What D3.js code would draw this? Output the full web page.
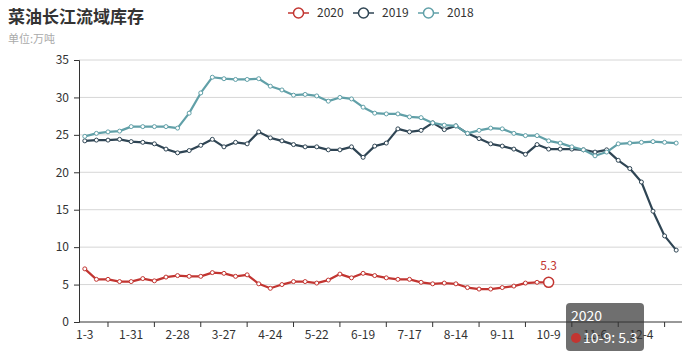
<!DOCTYPE html>
<html>
<head>
<meta charset="utf-8">
<script src="https://cdn.jsdelivr.net/npm/d3@7"></script>
<style>
  body { margin: 0; background: #fff; }
  text { font-family: "Noto Sans CJK SC", "Noto Sans", sans-serif; }
</style>
</head>
<body>
<div id="chart"></div>
<script>
// Weekly dates (x categories)
const dates = ["1-3","1-10","1-17","1-24","1-31","2-7","2-14","2-21","2-28","3-6","3-13","3-20","3-27",
  "4-3","4-10","4-17","4-24","5-1","5-8","5-15","5-22","5-29","6-5","6-12","6-19","6-26",
  "7-3","7-10","7-17","7-24","7-31","8-7","8-14","8-21","8-28","9-4","9-11","9-18","9-25",
  "10-2","10-9","10-16","10-23","10-30","11-6","11-13","11-20","11-27","12-4","12-11","12-18","12-25"];

// Stocks, 10k tonnes
const s2020 = [7.1,5.7,5.7,5.4,5.4,5.8,5.5,6.0,6.2,6.1,6.1,6.6,6.5,6.1,6.3,5.1,4.5,5.0,5.4,5.4,
  5.2,5.6,6.4,5.9,6.5,6.2,5.9,5.7,5.7,5.3,5.1,5.2,5.1,4.6,4.4,4.4,4.6,4.8,5.2,5.3,5.3];
const s2019 = [24.2,24.3,24.3,24.4,24.1,24.0,23.8,23.1,22.6,22.9,23.6,24.4,23.4,24.0,23.8,25.4,
  24.6,24.2,23.7,23.4,23.4,23.0,23.0,23.4,22.0,23.5,23.9,25.8,25.4,25.6,26.6,25.7,26.2,25.2,
  24.5,23.8,23.5,23.1,22.4,23.7,23.1,23.1,23.1,23.0,22.7,23.0,21.6,20.5,18.7,14.8,11.5,9.6];
const s2018 = [24.8,25.2,25.4,25.5,26.1,26.1,26.1,26.1,25.9,27.9,30.6,32.7,32.5,32.4,32.4,32.5,
  31.5,31.0,30.3,30.4,30.2,29.5,30.0,29.8,28.7,27.9,27.8,27.8,27.4,27.3,26.6,26.3,26.2,25.2,
  25.6,25.9,25.8,25.2,24.9,24.9,24.2,23.9,23.4,23.0,22.2,22.7,23.8,23.9,24.0,24.1,24.0,23.9];

const seriesNames = ["2020", "2019", "2018"];
const yTicks = [0, 5, 10, 15, 20, 25, 30, 35];

const series = [
  { name: seriesNames[0], values: s2020, color: "#c23531" },
  { name: seriesNames[1], values: s2019, color: "#2f4554" },
  { name: seriesNames[2], values: s2018, color: "#61a0a8" }
];

const width = 688;
const height = 353;
const margin = { top: 60, right: 6, bottom: 31, left: 79 };

const svg = d3.select("#chart").append("svg")
  .attr("width", width)
  .attr("height", height);

const x = d3.scaleBand()
  .domain(dates)
  .range([margin.left, width - margin.right]);

const y = d3.scaleLinear()
  .domain([0, 35])
  .range([height - margin.bottom, margin.top]);

const cx = d => x(d) + x.bandwidth() / 2;

// Title
svg.append("text")
  .attr("x", 8).attr("y", 23)
  .attr("font-size", 17).attr("font-weight", "bold")
  .attr("fill", "#333")
  .text("菜油长江流域库存");

svg.append("text")
  .attr("x", 8).attr("y", 43)
  .attr("font-size", 11)
  .attr("fill", "#aaa")
  .text("单位:万吨");

// Legend
const legend = svg.append("g")
  .selectAll("g")
  .data(series)
  .enter().append("g")
  .attr("transform", (d, i) => `translate(${288 + i * 65},13)`);

legend.append("line")
  .attr("x1", 0).attr("x2", 21)
  .attr("stroke", d => d.color)
  .attr("stroke-width", 1.5);

legend.append("circle")
  .attr("cx", 10.5).attr("r", 5)
  .attr("fill", "#fff")
  .attr("stroke", d => d.color)
  .attr("stroke-width", 1.5);

legend.append("text")
  .attr("x", 29).attr("dy", "0.35em")
  .attr("font-size", 12).attr("fill", "#333")
  .text(d => d.name);

// Grid lines
svg.append("g")
  .selectAll("line")
  .data(yTicks.filter(t => t > 0))
  .enter().append("line")
  .attr("x1", margin.left).attr("x2", width - margin.right)
  .attr("y1", d => y(d)).attr("y2", d => y(d))
  .attr("stroke", "#d6d6d6");

// Y axis
const yAxis = svg.append("g")
  .attr("transform", `translate(${margin.left},0)`)
  .call(d3.axisLeft(y).tickValues(yTicks).tickSize(5).tickPadding(5));
yAxis.select(".domain").attr("stroke", "#333");
yAxis.selectAll(".tick line").attr("stroke", "#333");
yAxis.selectAll("text").attr("font-size", 12).attr("fill", "#333")
  .style("font-family", "'Noto Sans CJK SC', sans-serif");

// X axis: labels every 4 weeks, ticks between them
const xAxisG = svg.append("g")
  .attr("transform", `translate(0,${y(0)})`);
xAxisG.append("line")
  .attr("x1", margin.left).attr("x2", width - margin.right)
  .attr("stroke", "#333");
xAxisG.selectAll(".xtick")
  .data(dates.filter((d, i) => i % 4 === 2))
  .enter().append("line")
  .attr("x1", d => cx(d)).attr("x2", d => cx(d))
  .attr("y1", 0).attr("y2", 5)
  .attr("stroke", "#333");
xAxisG.selectAll(".xlabel")
  .data(dates.filter((d, i) => i % 4 === 0))
  .enter().append("text")
  .attr("x", d => cx(d)).attr("y", 17)
  .attr("text-anchor", "middle")
  .attr("font-size", 12).attr("fill", "#333")
  .text(d => d);

// Lines
const line = d3.line()
  .x((d, i) => cx(dates[i]))
  .y(d => y(d));

const plot = svg.append("g");
series.forEach(s => {
  plot.append("path")
    .datum(s.values)
    .attr("d", line)
    .attr("fill", "none")
    .attr("stroke", s.color)
    .attr("stroke-width", 2.2)
    .attr("stroke-linejoin", "round");

  plot.append("g")
    .selectAll("circle")
    .data(s.values)
    .enter().append("circle")
    .attr("cx", (d, i) => cx(dates[i]))
    .attr("cy", d => y(d))
    .attr("r", 2)
    .attr("fill", "#fff")
    .attr("stroke", s.color)
    .attr("stroke-width", 1);
});

// Highlighted last 2020 point
const lastI = s2020.length - 1;
const hx = cx(dates[lastI]);
const hy = y(s2020[lastI]);
plot.append("circle")
  .attr("cx", hx).attr("cy", hy).attr("r", 5)
  .attr("fill", "#fff")
  .attr("stroke", "#c23531")
  .attr("stroke-width", 1.5);
plot.append("text")
  .attr("x", hx).attr("y", hy - 12)
  .attr("text-anchor", "middle")
  .attr("font-size", 12).attr("fill", "#c23531")
  .text(s2020[lastI]);

// Tooltip
const tip = svg.append("g").attr("transform", "translate(566,303)");
tip.append("rect")
  .attr("width", 78).attr("height", 48).attr("rx", 4)
  .attr("fill", "rgba(50,50,50,0.7)");
tip.append("text")
  .attr("x", 5).attr("y", 18)
  .attr("font-size", 14).attr("fill", "#fff")
  .text(seriesNames[0]);
tip.append("circle")
  .attr("cx", 10).attr("cy", 35).attr("r", 5)
  .attr("fill", "#c23531");
tip.append("text")
  .attr("x", 17).attr("y", 40)
  .attr("font-size", 14).attr("fill", "#fff")
  .text(`${dates[lastI]}: ${s2020[lastI]}`);
</script>
</body>
</html>
